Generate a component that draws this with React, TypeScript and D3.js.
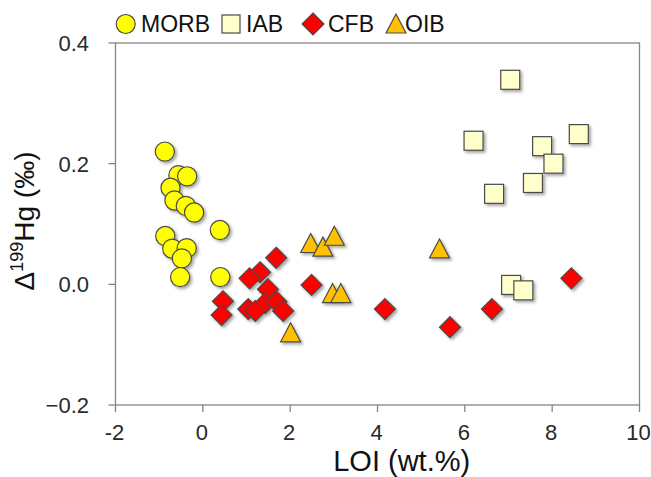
import React from 'react';
import * as d3 from 'd3';

const morbX = [-0.87, -0.56, -0.36, -0.74, -0.65, -0.39, -0.2, 0.39, -0.86, -0.7, -0.37, -0.48, -0.52, 0.4];
const morbY = [0.22, 0.181, 0.179, 0.16, 0.139, 0.13, 0.119, 0.09, 0.08, 0.059, 0.06, 0.043, 0.012, 0.012];

const iabX = [7.04, 6.2, 8.61, 7.77, 8.03, 7.56, 6.67, 7.06, 7.34];
const iabY = [0.339, 0.238, 0.249, 0.229, 0.2, 0.168, 0.15, -0.001, -0.01];

const cfbX = [1.68, 1.31, 1.07, 2.49, 0.46, 0.43, 1.49, 1.04, 1.43, 1.69, 1.84, 1.2, 4.17, 5.66, 6.62, 8.44];
const cfbY = [0.044, 0.02, 0.01, -0.001, -0.028, -0.051, -0.008, -0.041, -0.031, -0.029, -0.044, -0.044, -0.041, -0.071, -0.041, 0.01];

const oibX = [2.47, 2.75, 3.01, 5.42, 2.97, 3.16, 2.01];
const oibY = [0.066, 0.06, 0.078, 0.057, -0.017, -0.017, -0.082];

const xTicks = [-2, 0, 2, 4, 6, 8, 10];
const yTicks = [-0.2, 0, 0.2, 0.4];

const W = 651;
const H = 477;
const margin = { top: 43, right: 11.5, bottom: 72, left: 115.5 };
const FONT = '"Liberation Sans", Arial, sans-serif';
const axisColor = '#868686';
const textColor = '#2a2a2a';
const stroke = '#4a4a4a';

const trianglePath = 'M0,-11L10,8L-10,8Z';
const diamondPath = 'M0,-10.5L10.5,0L0,10.5L-10.5,0Z';

const App = () => {
  const innerW = W - margin.left - margin.right;
  const innerH = H - margin.top - margin.bottom;

  const x = d3.scaleLinear().domain([-2, 10]).range([margin.left, margin.left + innerW]);
  const y = d3.scaleLinear().domain([-0.2, 0.4]).range([margin.top + innerH, margin.top]);

  const zip = (xs: number[], ys: number[]) => xs.map((v, i) => [v, ys[i]]);

  return (
    <svg width={W} height={H} style={{ position: 'absolute', left: 0, top: 0, background: '#fff' }}>
      <defs>
        <filter id="shadow" x="-50%" y="-50%" width="200%" height="200%">
          <feDropShadow dx="2" dy="2" stdDeviation="1.5" floodColor="#000" floodOpacity="0.35" />
        </filter>
      </defs>

      {/* plot frame */}
      <rect x={margin.left} y={margin.top} width={innerW} height={innerH} fill="none" stroke={axisColor} strokeWidth={1.3} />

      {/* y ticks */}
      {yTicks.map(t => (
        <g key={'y' + t}>
          <line x1={margin.left - 7} x2={margin.left} y1={y(t)} y2={y(t)} stroke={axisColor} strokeWidth={1.3} />
          <text x={89} y={y(t)} dy="0.36em" textAnchor="end" fontFamily={FONT} fontSize={22} fill={textColor}>
            {d3.format('.1f')(t)}
          </text>
        </g>
      ))}

      {/* x ticks */}
      {xTicks.map(t => (
        <g key={'x' + t}>
          <line x1={x(t)} x2={x(t)} y1={margin.top + innerH} y2={margin.top + innerH + 7} stroke={axisColor} strokeWidth={1.3} />
          <text x={x(t) - 1} y={440} textAnchor="middle" fontFamily={FONT} fontSize={22} fill={textColor}>
            {t}
          </text>
        </g>
      ))}

      {/* axis titles */}
      <text x={401.7} y={471} textAnchor="middle" fontFamily={FONT} fontSize={29} fill="#111">LOI (wt.%)</text>
      <text transform="translate(34,221) rotate(-90)" textAnchor="middle" fontFamily={FONT} fontSize={28} fill="#111">
        Δ<tspan fontSize={18} dy={-11}>199</tspan><tspan dy={11}>Hg (‰)</tspan>
      </text>

      {/* points */}
      <g filter="url(#shadow)">
        {zip(iabX, iabY).map(([a, b], i) => (
          <rect key={'iab' + i} x={x(a) - 9.5} y={y(b) - 9.5} width={19} height={19} fill="#FFFFCC" stroke={stroke} strokeWidth={1.2} />
        ))}
        {zip(morbX, morbY).map(([a, b], i) => (
          <circle key={'morb' + i} cx={x(a)} cy={y(b)} r={9.6} fill="#FFFF00" stroke={stroke} strokeWidth={1.2} />
        ))}
        {zip(oibX, oibY).map(([a, b], i) => (
          <path key={'oib' + i} d={trianglePath} transform={`translate(${x(a)},${y(b)})`} fill="#FFC000" stroke={stroke} strokeWidth={1.2} />
        ))}
        {zip(cfbX, cfbY).map(([a, b], i) => (
          <path key={'cfb' + i} d={diamondPath} transform={`translate(${x(a)},${y(b)})`} fill="#FF0000" stroke={stroke} strokeWidth={1.2} />
        ))}
      </g>

      {/* legend */}
      <g fontFamily={FONT} fontSize={23} fill="#111">
        <circle cx={125.7} cy={24} r={9.5} fill="#FFFF00" stroke={stroke} strokeWidth={1.2} />
        <text x={141} y={32}>MORB</text>
        <rect x={222} y={15} width={18} height={18} fill="#FFFFCC" stroke={stroke} strokeWidth={1.2} />
        <text x={246} y={32}>IAB</text>
        <path d="M0,-11L11,0L0,11L-11,0Z" transform="translate(313,24)" fill="#FF0000" stroke={stroke} strokeWidth={1.2} />
        <text x={328} y={32}>CFB</text>
        <path d={trianglePath} transform="translate(396,25)" fill="#FFC000" stroke={stroke} strokeWidth={1.2} />
        <text x={405} y={32}>OIB</text>
      </g>
    </svg>
  );
};

export default App;
